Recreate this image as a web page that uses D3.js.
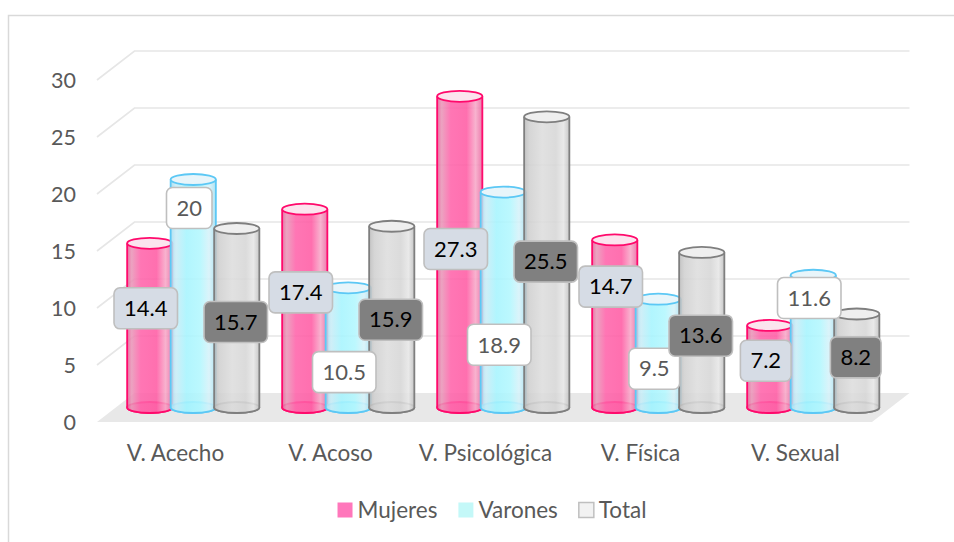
<!DOCTYPE html>
<html>
<head>
<meta charset="utf-8">
<script src="https://cdn.jsdelivr.net/npm/d3@7"></script>
<style>
  html, body { margin: 0; padding: 0; background: #ffffff; }
  svg { display: block; }
  text { font-family: Lato, "Open Sans", sans-serif; }
</style>
</head>
<body>
<script>
// ---------------- data ----------------
const categories = ["V. Acecho", "V. Acoso", "V. Psicológica", "V. Física", "V. Sexual"];
const seriesNames = ["Mujeres", "Varones", "Total"];
const mujeres = [14.4, 17.4, 27.3, 14.7, 7.2];
const varones = [20, 10.5, 18.9, 9.5, 11.6];
const total   = [15.7, 15.9, 25.5, 13.6, 8.2];
const yTicks  = [0, 5, 10, 15, 20, 25, 30];
// where each data label sits (in value units along its cylinder), as placed in the original
const labelAtMujeres = [8.7, 10.1, 13.9, 10.6, 4.1];
const labelAtVarones = [17.5, 3.1, 5.5, 3.4, 9.6];
const labelAtTotal   = [7.5, 7.7, 12.8, 6.3, 4.4];

const seriesValues = [mujeres, varones, total];
const seriesLabelAt = [labelAtMujeres, labelAtVarones, labelAtTotal];

// ---------------- layout ----------------
const W = 954, H = 542;
const svg = d3.select("body").append("svg").attr("width", W).attr("height", H);

const DEPTH_X = 37.5, DEPTH_Y = -29;   // offset from front plane to back wall
const MID = 0.5;                         // cylinders sit halfway in depth

const x = d3.scaleBand().domain(categories).range([97, 872]).paddingInner(0).paddingOuter(0);
const y = d3.scaleLinear().domain([0, 30]).range([422, 80]);
const xs = d3.scaleBand().domain(seriesNames).range([-65.25, 65.25]);
const RX = 22.6, RY = 5.5;

const styles = {
  Mujeres: { stroke: "#ff0a6c", top: "#fbe4ee", bottom: "#f58ab8", label: "#d6dce5", text: "#000000",
             stops: [[0, "#e5639b"], [0.1, "#e996b8"], [0.3, "#ff63aa"], [0.65, "#ff5ca4"], [0.85, "#f7a8c8"], [1, "#ea6aa2"]] },
  Varones: { stroke: "#5cc8f5", top: "#e8f5fa", bottom: "#a8e8f6", label: "#ffffff", text: "#595959",
             stops: [[0, "#a6dcef"], [0.12, "#c9ecf6"], [0.35, "#a6f4fe"], [0.65, "#b2f7fe"], [0.85, "#d6f2f9"], [1, "#a6dff0"]] },
  Total:   { stroke: "#7f7f7f", top: "#efefef", bottom: "#d4d4d4", label: "#808080", text: "#000000",
             stops: [[0, "#bcbcbc"], [0.12, "#d0d0d0"], [0.4, "#dddddd"], [0.7, "#d6d6d6"], [0.87, "#e6e6e6"], [1, "#c0c0c0"]] }
};

const defs = svg.append("defs");
seriesNames.forEach(s => {
  const g = defs.append("linearGradient").attr("id", "grad-" + s)
    .attr("x1", "0%").attr("x2", "100%").attr("y1", "0%").attr("y2", "0%");
  styles[s].stops.forEach(([o, c]) => g.append("stop").attr("offset", o).attr("stop-color", c));
});

// chart frame
svg.append("rect").attr("x", 8.5).attr("y", 15.5).attr("width", 1000).attr("height", 600)
  .attr("fill", "none").attr("stroke", "#d9d9d9").attr("stroke-width", 1.5);

// floor
const x0 = x.range()[0], x1 = x.range()[1];
svg.append("path")
  .attr("d", `M${x0},${y(0)} L${x1},${y(0)} L${x1 + DEPTH_X},${y(0) + DEPTH_Y} L${x0 + DEPTH_X},${y(0) + DEPTH_Y} Z`)
  .attr("fill", "#e8e8e8");

// gridlines (back wall + left side wall)
const grid = svg.append("g").attr("fill", "none").attr("stroke", "#e6e6e6").attr("stroke-width", 1.6);
yTicks.filter(t => t > 0).forEach(t => {
  grid.append("path")
    .attr("d", `M${x0},${y(t)} L${x0 + DEPTH_X},${y(t) + DEPTH_Y} L${x1 + DEPTH_X},${y(t) + DEPTH_Y}`);
});

// y tick labels
svg.append("g").selectAll("text").data(yTicks).join("text")
  .attr("x", 76).attr("y", d => y(d)).attr("dy", "0.35em")
  .attr("text-anchor", "end").attr("font-size", 21.5).attr("fill", "#595959")
  .text(d => d);

// category labels
svg.append("g").selectAll("text").data(categories).join("text")
  .attr("x", d => x(d) + x.bandwidth() / 2 + 1).attr("y", 453).attr("dy", "0.35em")
  .attr("text-anchor", "middle").attr("font-size", 22.5).attr("fill", "#595959")
  .text(d => d);

// cylinders
const points = [];
categories.forEach((c, i) => {
  seriesNames.forEach((s, k) => {
    const cx = x(c) + x.bandwidth() / 2 + xs(s) + xs.bandwidth() / 2 + DEPTH_X * MID;
    points.push({ c, s, k, i, v: seriesValues[k][i], at: seriesLabelAt[k][i], cx });
  });
});
const yb = v => y(v) + DEPTH_Y * MID;

const cyl = svg.append("g");
points.forEach(p => {
  const st = styles[p.s];
  const g = cyl.append("g");
  const bY = yb(0), tY = yb(p.v), l = p.cx - RX, r = p.cx + RX;
  g.append("ellipse").attr("cx", p.cx).attr("cy", bY).attr("rx", RX).attr("ry", RY)
    .attr("fill", st.bottom).attr("stroke", st.stroke).attr("stroke-width", 1.8);
  g.append("path")
    .attr("d", `M${l},${tY} L${l},${bY} A${RX},${RY} 0 0 0 ${r},${bY} L${r},${tY} Z`)
    .attr("fill", `url(#grad-${p.s})`).attr("fill-opacity", 0.88).attr("stroke", "none");
  g.append("path")
    .attr("d", `M${l},${tY} L${l},${bY} A${RX},${RY} 0 0 0 ${r},${bY} L${r},${tY}`)
    .attr("fill", "none").attr("stroke", st.stroke).attr("stroke-width", 1.8);
  g.append("ellipse").attr("cx", p.cx).attr("cy", tY).attr("rx", RX).attr("ry", RY)
    .attr("fill", st.top).attr("stroke", st.stroke).attr("stroke-width", 1.8);
});

// data labels
const labelG = svg.append("g");
const labelDx = { Mujeres: -4, Varones: -4, Total: -1 };
points.forEach(p => {
  const st = styles[p.s];
  const g = labelG.append("g").attr("transform", `translate(${p.cx + labelDx[p.s]},${yb(p.at)})`);
  const rect = g.append("rect");
  const t = g.append("text").attr("text-anchor", "middle").attr("dy", "0.35em")
    .attr("font-size", 22).attr("fill", st.text).text(p.v);
  const w = t.node().getComputedTextLength() + 20, h = 41;
  rect.attr("x", -w / 2).attr("y", -h / 2).attr("width", w).attr("height", h)
    .attr("rx", 6).attr("fill", st.label).attr("stroke", "#bfbfbf").attr("stroke-width", 1.6);
});

// legend
const legendColors = { Mujeres: ["#ff77bb", "none"], Varones: ["#c4f8f8", "none"], Total: ["#f2f2f2", "#bfbfbf"] };
const legend = svg.append("g");
let lx = 0;
seriesNames.forEach(s => {
  const g = legend.append("g").attr("transform", `translate(${lx},0)`);
  g.append("rect").attr("x", 0).attr("y", -7.5).attr("width", 15).attr("height", 15)
    .attr("fill", legendColors[s][0]).attr("stroke", legendColors[s][1]).attr("stroke-width", 1.5);
  const t = g.append("text").attr("x", 20).attr("dy", "0.35em").attr("font-size", 22.5)
    .attr("fill", "#595959").text(s);
  lx += 20 + t.node().getComputedTextLength() + 21;
});
const legendW = lx - 21;
legend.attr("transform", `translate(${492 - legendW / 2},510)`);
</script>
</body>
</html>
